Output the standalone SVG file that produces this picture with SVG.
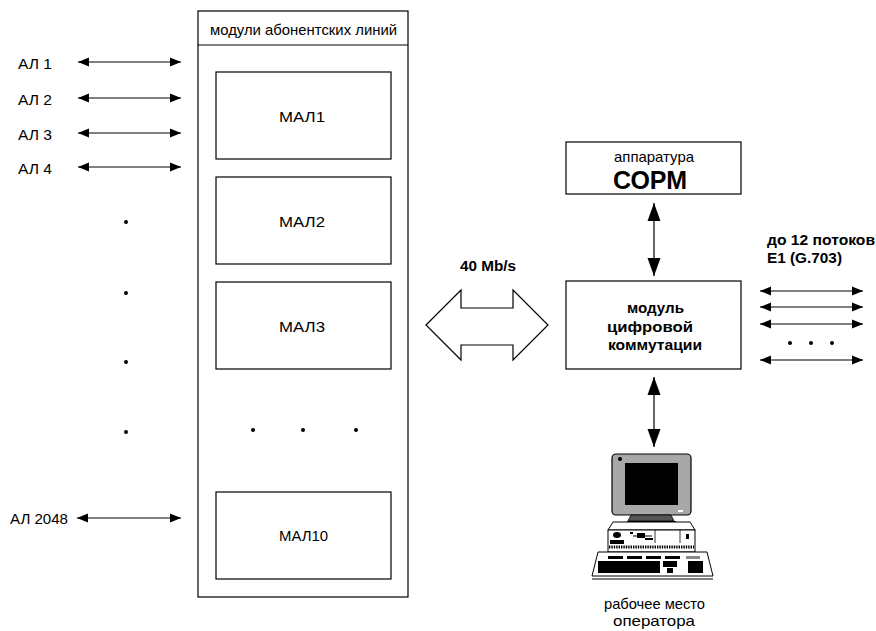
<svg xmlns="http://www.w3.org/2000/svg" width="876" height="631" viewBox="0 0 876 631">
<defs>
<style>
.box{fill:#fff;stroke:#000;stroke-width:1.2}
.t{font-family:"Liberation Sans",Arial,sans-serif;font-size:15px;fill:#000}
.b{font-weight:bold}
.c{text-anchor:middle}
.ln{stroke:#000;stroke-width:1.2;fill:none}
.dot{fill:#000}
</style>
<marker id="ah" markerUnits="userSpaceOnUse" markerWidth="12" markerHeight="10" refX="11" refY="5" orient="auto-start-reverse">
<path d="M0,0.5 L11,5 L0,9.5 Z" fill="#000"/>
</marker>
<marker id="ahb" markerUnits="userSpaceOnUse" markerWidth="19" markerHeight="14" refX="18" refY="7" orient="auto-start-reverse">
<path d="M0,0.5 L18,7 L0,13.5 Z" fill="#000"/>
</marker>
</defs>
<rect width="876" height="631" fill="#fff"/>

<g id="modules">
<rect class="box" x="198" y="11" width="210" height="586"/>
<line class="ln" x1="198" y1="45" x2="408" y2="45"/>
<text class="t" x="210" y="35" textLength="187" lengthAdjust="spacingAndGlyphs">модули абонентских линий</text>
</g>
<g id="mal1"><rect class="box" x="216" y="72" width="175" height="87"/><text class="t" x="279" y="122" textLength="46" lengthAdjust="spacingAndGlyphs">МАЛ1</text></g>
<g id="mal2"><rect class="box" x="216" y="177" width="175" height="87"/><text class="t" x="279" y="227" textLength="46" lengthAdjust="spacingAndGlyphs">МАЛ2</text></g>
<g id="mal3"><rect class="box" x="216" y="282" width="175" height="87"/><text class="t" x="279" y="332" textLength="46" lengthAdjust="spacingAndGlyphs">МАЛ3</text></g>
<g id="mal10"><rect class="box" x="216" y="492" width="175" height="87"/><text class="t" x="279" y="541" textLength="49" lengthAdjust="spacingAndGlyphs">МАЛ10</text></g>
<g id="mal-dots">
<circle class="dot" cx="253" cy="430" r="2"/><circle class="dot" cx="303" cy="430" r="2"/><circle class="dot" cx="356" cy="430" r="2"/>
</g>

<g id="al-labels">
<text class="t" x="18" y="69" textLength="34" lengthAdjust="spacingAndGlyphs">АЛ 1</text>
<text class="t" x="18" y="105" textLength="34" lengthAdjust="spacingAndGlyphs">АЛ 2</text>
<text class="t" x="18" y="140" textLength="34" lengthAdjust="spacingAndGlyphs">АЛ 3</text>
<text class="t" x="18" y="174" textLength="34" lengthAdjust="spacingAndGlyphs">АЛ 4</text>
<text class="t" x="10" y="524" textLength="58" lengthAdjust="spacingAndGlyphs">АЛ 2048</text>
<circle class="dot" cx="126" cy="222" r="2"/>
<circle class="dot" cx="126" cy="293" r="2"/>
<circle class="dot" cx="126" cy="362" r="2"/>
<circle class="dot" cx="126" cy="432" r="2"/>
</g>

<g id="sorm">
<rect class="box" x="566" y="142" width="175" height="52"/>
<text class="t" x="614" y="162" textLength="80" lengthAdjust="spacingAndGlyphs">аппаратура</text>
<text class="t b" x="613" y="189" style="font-size:25px" textLength="74" lengthAdjust="spacingAndGlyphs">СОРМ</text>
</g>

<g id="dcm">
<rect class="box" x="566" y="281" width="175" height="88"/>
<text class="t b" x="627" y="313" textLength="57" lengthAdjust="spacingAndGlyphs">модуль</text>
<text class="t b" x="607" y="332" textLength="86" lengthAdjust="spacingAndGlyphs">цифровой</text>
<text class="t b" x="608" y="350" textLength="94" lengthAdjust="spacingAndGlyphs">коммутации</text>
</g>

<g id="e1-label">
<text class="t b" x="767" y="245" textLength="108" lengthAdjust="spacingAndGlyphs">до 12 потоков</text>
<text class="t b" x="767" y="263" textLength="75" lengthAdjust="spacingAndGlyphs">E1 (G.703)</text>
</g>

<g id="bus-label">
<text class="t b" x="460" y="271" textLength="56" lengthAdjust="spacingAndGlyphs">40 Mb/s</text>
</g>

<g id="workstation">
<rect x="612" y="454" width="79" height="61" rx="4" fill="#a8a8a8" stroke="#000" stroke-width="1.2"/>
<rect x="625" y="463" width="53" height="42" fill="#000"/>
<circle cx="620" cy="459" r="2" fill="#000"/>
<rect x="678" y="510" width="5" height="2" fill="#fff"/>
<path d="M631,515 L671,515 L674,521 L628,521 Z" fill="#555" stroke="#000" stroke-width="0.8"/>
<rect x="627" y="521" width="49" height="4" fill="#000"/>
<path d="M613,522 L690,522 L695,530 L608,530 Z" fill="#fff" stroke="#000" stroke-width="1"/>
<rect x="608" y="530" width="87" height="22" fill="#fff" stroke="#000" stroke-width="1"/>
<line x1="655" y1="530" x2="655" y2="543" stroke="#000" stroke-width="0.8"/>
<line x1="680" y1="530" x2="680" y2="543" stroke="#000" stroke-width="0.8"/>
<ellipse cx="617" cy="535" rx="4" ry="3" fill="#000"/>
<rect x="630" y="532" width="3" height="2" fill="#000"/>
<rect x="637" y="533" width="8" height="5" fill="#000"/>
<line x1="633" y1="536" x2="652" y2="536" stroke="#000" stroke-width="1"/>
<rect x="645" y="538" width="8" height="2" fill="#000"/>
<rect x="686" y="534" width="3" height="5" fill="#000"/>
<rect x="610" y="540" width="14" height="4" fill="#000"/>
<line x1="609" y1="547" x2="694" y2="547" stroke="#000" stroke-width="3" stroke-dasharray="1.4 1"/>
<path d="M598,552 L707,552 L713,576 L592,576 Z" fill="#fff" stroke="#000" stroke-width="1"/>
<line x1="592" y1="579" x2="713" y2="579" stroke="#000" stroke-width="1"/>
<g fill="#000">
<rect x="608" y="556" width="15" height="3"/><rect x="627" y="556" width="15" height="3"/><rect x="646" y="556" width="15" height="3"/><rect x="665" y="556" width="15" height="3"/>
<rect x="686" y="556" width="14" height="3" fill="#888"/>
<rect x="598" y="561" width="62" height="12"/>
<rect x="663" y="561" width="14" height="6"/><rect x="667" y="568" width="6" height="5"/>
<rect x="688" y="561" width="15" height="12"/>
</g>
</g>

<g id="connectors">
<line class="ln" x1="78" y1="62" x2="181" y2="62" marker-start="url(#ah)" marker-end="url(#ah)"/>
<line class="ln" x1="78" y1="98" x2="181" y2="98" marker-start="url(#ah)" marker-end="url(#ah)"/>
<line class="ln" x1="78" y1="133" x2="181" y2="133" marker-start="url(#ah)" marker-end="url(#ah)"/>
<line class="ln" x1="78" y1="167" x2="181" y2="167" marker-start="url(#ah)" marker-end="url(#ah)"/>
<line class="ln" x1="77" y1="518" x2="181" y2="518" marker-start="url(#ah)" marker-end="url(#ah)"/>
<polygon class="box" points="426,325 461,290 461,308 513,308 513,290 548,325 513,360 513,345 461,345 461,360"/>
<line class="ln" x1="654" y1="203" x2="654" y2="276" marker-start="url(#ahb)" marker-end="url(#ahb)"/>
<line class="ln" x1="654" y1="377" x2="654" y2="447" marker-start="url(#ahb)" marker-end="url(#ahb)"/>
<line class="ln" x1="760" y1="291" x2="863" y2="291" marker-start="url(#ah)" marker-end="url(#ah)"/>
<line class="ln" x1="760" y1="307" x2="863" y2="307" marker-start="url(#ah)" marker-end="url(#ah)"/>
<line class="ln" x1="760" y1="324" x2="863" y2="324" marker-start="url(#ah)" marker-end="url(#ah)"/>
<line class="ln" x1="760" y1="360" x2="863" y2="360" marker-start="url(#ah)" marker-end="url(#ah)"/>
<circle class="dot" cx="790" cy="343" r="2"/><circle class="dot" cx="811" cy="343" r="2"/><circle class="dot" cx="832" cy="343" r="2"/>
</g>

<g id="ws-label">
<text class="t" x="604" y="609" textLength="101" lengthAdjust="spacingAndGlyphs">рабочее место</text>
<text class="t" x="613" y="626" textLength="82" lengthAdjust="spacingAndGlyphs">оператора</text>
</g>
</svg>
